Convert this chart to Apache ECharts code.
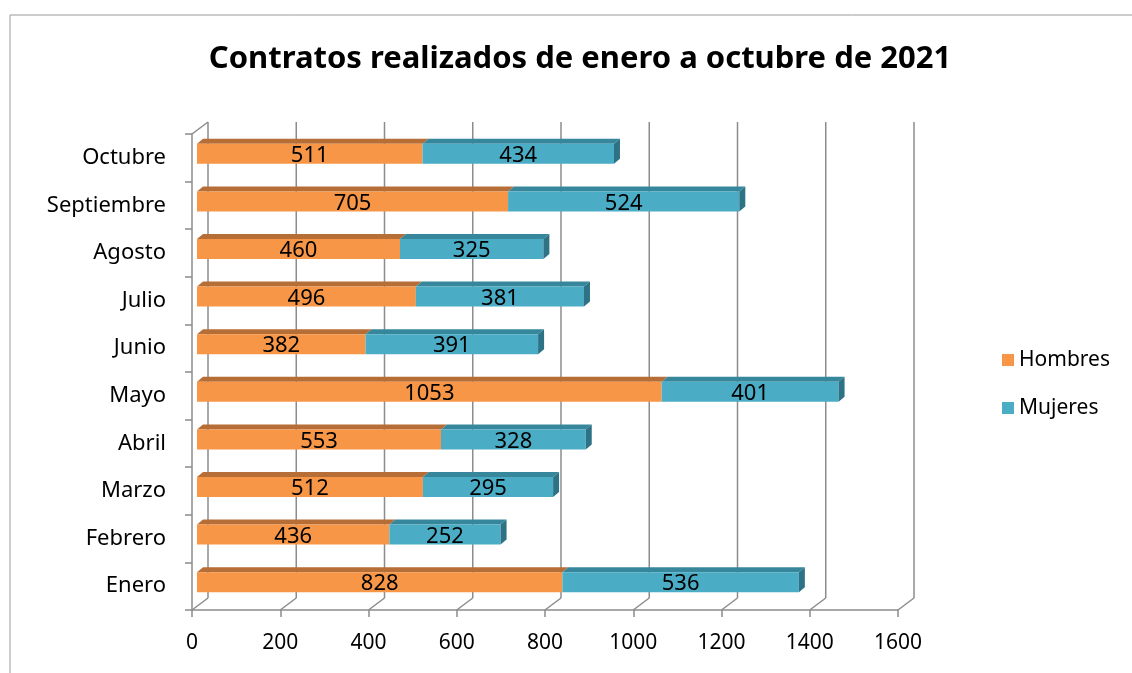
<!DOCTYPE html>
<html>
<head>
<meta charset="utf-8">
<script src="https://cdn.jsdelivr.net/npm/echarts@6/dist/echarts.min.js"></script>
<style>
  html, body { margin: 0; padding: 0; background: #fff; }
  #chart { width: 1132px; height: 673px; }
</style>
</head>
<body>
<div id="chart"></div>
<script>
// datos (de abajo hacia arriba)
const meses = ['Enero', 'Febrero', 'Marzo', 'Abril', 'Mayo', 'Junio', 'Julio', 'Agosto', 'Septiembre', 'Octubre']
const hombres = [828, 436, 512, 553, 1053, 382, 496, 460, 705, 511]
const mujeres = [536, 252, 295, 328, 401, 391, 381, 325, 524, 434]
const ticksX = [0, 200, 400, 600, 800, 1000, 1200, 1400, 1600]

// efecto 3d
const BACK_DX = 16, BACK_DY = -12   // pared del fondo
const BAR_DX = 5, BAR_DY = -4       // posicion de la barra
const DEPTH_X = 6, DEPTH_Y = -5     // profundidad de la barra
const BAR_H = 20
const GRID_COLOR = '#8c8c8c'

const chart = echarts.init(document.getElementById('chart'))

const mkData = (vals, base) => vals.map((v, i) => {
  const s = base ? base[i] : 0
  return [s, s + v, i, v]
})

const barRender = (front, top, side, withSide) => (params, api) => {
  const p0 = api.coord([api.value(0), api.value(2)])
  const p1 = api.coord([api.value(1), api.value(2)])
  const x0 = p0[0] + BAR_DX, x1 = p1[0] + BAR_DX
  const yc = p0[1] + BAR_DY
  const yT = yc - BAR_H / 2, yB = yc + BAR_H / 2
  const children = [
    { type: 'polygon', shape: { points: [[x0, yT], [x1, yT], [x1 + DEPTH_X, yT + DEPTH_Y], [x0 + DEPTH_X, yT + DEPTH_Y]] }, style: { fill: top } },
    { type: 'rect', shape: { x: x0, y: yT, width: x1 - x0, height: BAR_H }, style: { fill: front } }
  ]
  if (withSide) {
    children.push({ type: 'polygon', shape: { points: [[x1, yT], [x1 + DEPTH_X, yT + DEPTH_Y], [x1 + DEPTH_X, yB + DEPTH_Y], [x1, yB]] }, style: { fill: side } })
  }
  children.push({
    type: 'text',
    style: { text: String(api.value(3)), x: (x0 + x1) / 2, y: yc + 2, align: 'center', verticalAlign: 'middle', fill: '#000', font: '22px "Noto Sans"' }
  })
  return { type: 'group', children }
}

const wallRender = (params, api) => {
  const cs = params.coordSys
  const x = api.coord([api.value(0), 0])[0]
  const top = cs.y, bot = cs.y + cs.height
  const children = [
    { type: 'line', shape: { x1: x + BACK_DX, y1: top + BACK_DY, x2: x + BACK_DX, y2: bot + BACK_DY }, style: { stroke: GRID_COLOR, lineWidth: 1.5 } },
    { type: 'line', shape: { x1: x, y1: bot, x2: x + BACK_DX, y2: bot + BACK_DY }, style: { stroke: GRID_COLOR, lineWidth: 1.5 } }
  ]
  if (params.dataIndex === 0) {
    children.push({ type: 'line', shape: { x1: x, y1: top, x2: x + BACK_DX, y2: top + BACK_DY }, style: { stroke: GRID_COLOR, lineWidth: 1.5 } })
  }
  return { type: 'group', children }
}

const option = {
  animation: false,
  title: {
    text: 'Contratos realizados de enero a octubre de 2021',
    left: 575, top: 39, textAlign: 'center',
    textStyle: { fontFamily: 'Noto Sans', fontWeight: 'bold', fontSize: 31, color: '#000' }
  },
  legend: {
    orient: 'vertical', left: 997, top: 344, itemGap: 26,
    itemWidth: 12, itemHeight: 12, icon: 'rect',
    textStyle: { fontFamily: 'Noto Sans', fontSize: 21, lineHeight: 22, color: '#000' },
    data: ['Hombres', 'Mujeres']
  },
  graphic: [
    { type: 'polyline', shape: { points: [[10, 673], [10, 15], [1132, 15]] }, style: { stroke: '#9a9a9a', lineWidth: 1, fill: null } }
  ],
  grid: { left: 192, right: 234, top: 134, bottom: 63 },
  xAxis: {
    type: 'value', min: 0, max: 1600, interval: 200,
    axisLine: { show: true, lineStyle: { color: GRID_COLOR, width: 1.5 } },
    axisTick: { show: true, length: 7, lineStyle: { color: GRID_COLOR, width: 1.5 } },
    splitLine: { show: false },
    axisLabel: { margin: 23, fontFamily: 'Noto Sans', fontSize: 21, color: '#000', formatter: v => String(v) }
  },
  yAxis: {
    type: 'category', data: meses,
    axisLine: { show: true, lineStyle: { color: GRID_COLOR, width: 1.5 } },
    axisTick: { show: true, length: 7, lineStyle: { color: GRID_COLOR, width: 1.5 } },
    axisLabel: { margin: 26, padding: [7, 0, 0, 0], fontFamily: 'Noto Sans', fontSize: 22, color: '#000' }
  },
  series: [
    {
      name: 'pared', type: 'custom', renderItem: wallRender, silent: true, z: 1,
      data: ticksX.map(v => [v]), encode: { x: 0 }
    },
    {
      name: 'Hombres', type: 'custom', z: 2,
      itemStyle: { color: '#F79646' },
      renderItem: barRender('#F79646', '#B66D36', '#B66D36', false),
      data: mkData(hombres), encode: { x: [0, 1], y: 2 }
    },
    {
      name: 'Mujeres', type: 'custom', z: 3,
      itemStyle: { color: '#4BACC6' },
      renderItem: barRender('#4BACC6', '#37879C', '#2E7385', true),
      data: mkData(mujeres, hombres), encode: { x: [0, 1], y: 2 }
    }
  ]
}

chart.setOption(option)
</script>
</body>
</html>
